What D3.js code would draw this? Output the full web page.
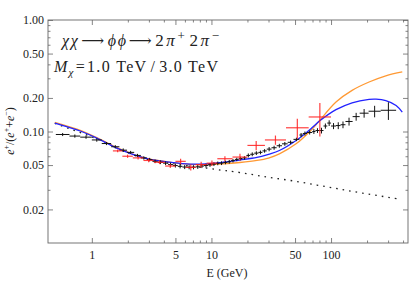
<!DOCTYPE html>
<html>
<head>
<meta charset="utf-8">
<script src="https://cdn.jsdelivr.net/npm/d3@7"></script>
<style>
  body { margin: 0; background: #fff; }
  svg text { font-family: "Liberation Serif", "DejaVu Serif", serif; fill: #222; }
</style>
</head>
<body>
<div id="chart"></div>
<script>
// black data: bin edges (GeV), positron fraction, error
let amsEdges = [0.5, 0.65, 0.8, 1.0, 1.21, 1.45, 1.7, 1.97, 2.26, 2.57, 2.88, 3.21, 3.56, 3.94, 4.34,
    4.77, 5.23, 5.72, 6.24, 6.79, 7.38, 8.0, 8.66, 9.36, 10.1, 10.9, 11.7, 12.6, 13.6, 14.6, 15.7,
    16.9, 18.2, 19.6, 21.1, 22.8, 24.7, 26.7, 29.0, 31.8, 35.1, 38.9, 43.4, 48.5, 54.4, 58, 63,
    69.7, 74.1, 80, 86.5, 93, 100, 110, 120, 132, 151.5, 173.5, 206, 260, 350];
let amsFrac = [0.094, 0.091, 0.089, 0.084, 0.078, 0.073, 0.068, 0.065, 0.061, 0.058,
    0.056, 0.054, 0.053, 0.052, 0.0505, 0.0495, 0.0487, 0.048, 0.0478, 0.0478,
    0.0482, 0.049, 0.0495, 0.0502, 0.051, 0.0518, 0.052, 0.0528, 0.0535, 0.0548,
    0.0562, 0.0572, 0.058, 0.061, 0.0625, 0.064, 0.065, 0.067, 0.0695, 0.0715,
    0.0745, 0.0775, 0.080, 0.085, 0.093, 0.096, 0.098, 0.100, 0.102, 0.102,
    0.112, 0.119, 0.112, 0.113, 0.115, 0.123, 0.136, 0.146, 0.152, 0.155];
let amsErr = [0.003, 0.003, 0.003, 0.003, 0.0025, 0.0025, 0.0025, 0.002, 0.002, 0.002,
    0.002, 0.002, 0.002, 0.002, 0.002, 0.002, 0.002, 0.002, 0.002, 0.002,
    0.002, 0.002, 0.002, 0.002, 0.002, 0.002, 0.002, 0.002, 0.002, 0.002,
    0.002, 0.002, 0.002, 0.0025, 0.0025, 0.0025, 0.0025, 0.0025, 0.003, 0.003,
    0.003, 0.003, 0.003, 0.003, 0.004, 0.004, 0.004, 0.005, 0.005, 0.006,
    0.006, 0.007, 0.007, 0.008, 0.008, 0.010, 0.011, 0.013, 0.018, 0.028];

// red data
let pamEdges = [1.5, 1.8, 2.2, 2.7, 3.3, 4.1, 5.0, 6.1, 7.4, 9.1, 11.2, 15, 20, 28, 42, 65, 100];
let pamFrac = [0.067, 0.060, 0.058, 0.055, 0.053, 0.049, 0.054, 0.0477, 0.0505, 0.052,
    0.057, 0.059, 0.075, 0.084, 0.108, 0.135];
let pamErr = [0.002, 0.002, 0.002, 0.002, 0.002, 0.002, 0.003, 0.003, 0.003, 0.003,
    0.003, 0.004, 0.007, 0.008, 0.022, 0.045];

// model curves
let blueE = [0.49, 0.82, 1.13, 1.55, 2.14, 2.95, 4.8, 6.6, 9.1, 12.5, 17.3, 24, 30, 37, 51, 70, 80,
    110, 150, 208, 238, 287, 350, 394];
let blueFrac = [0.119, 0.100, 0.086, 0.0725, 0.063, 0.0568, 0.0525, 0.051, 0.0513, 0.053, 0.0555,
    0.0585, 0.0625, 0.0675, 0.083, 0.109, 0.124, 0.157, 0.181, 0.194, 0.195, 0.189, 0.171, 0.149];
let orangeE = [0.49, 0.82, 1.13, 1.55, 2.14, 2.95, 4.8, 6.6, 9.1, 12.5, 17.3, 24, 30, 37, 51, 70, 80,
    110, 150, 208, 287, 394];
let orangeFrac = [0.121, 0.1015, 0.087, 0.0732, 0.0635, 0.057, 0.0525, 0.0508, 0.0505, 0.0512,
    0.0527, 0.055, 0.0578, 0.063, 0.0775, 0.106, 0.125, 0.184, 0.234, 0.278, 0.316, 0.342];
let bgE = [0.49, 1.13, 2.14, 2.95, 4.8, 6.6, 9.1, 12.1, 15.6, 27, 51, 97, 184, 370];
let bgFrac = [0.118, 0.085, 0.0625, 0.0565, 0.0515, 0.049, 0.047, 0.045, 0.0436, 0.0396, 0.0357,
    0.0316, 0.028, 0.0248];

// ticks
let xMajor = [1, 5, 10, 50, 100];
let xMinor = [2, 3, 4, 6, 7, 8, 9, 20, 30, 40, 60, 70, 80, 90, 200, 300, 400];
let yMajor = [0.02, 0.05, 0.1, 0.2, 0.5, 1];
let yMinor = [0.03, 0.04, 0.06, 0.07, 0.08, 0.09, 0.3, 0.4, 0.6, 0.7, 0.8, 0.9];

let pLeft = 48, pRight = 408, pTop = 20, pBottom = 243;

let x = d3.scaleLog().domain([0.43, 440]).range([pLeft, pRight]);
let y = d3.scaleLog().domain([0.01, 1]).range([pBottom, pTop]);

let svg = d3.select('#chart')
    .append('svg')
    .attr('width', 415)
    .attr('height', 284);

// axes: major ticks longer, all pointing inward
function addAxis(axis, tx, ty, labels) {
    let g = svg.append('g')
        .attr('transform', `translate(${tx},${ty})`)
        .call(axis);
    g.select('.domain').remove();
    g.selectAll('line').attr('stroke', '#666').attr('stroke-width', 0.8);
    g.selectAll('text').style('font-size', '12px').attr('fill', '#222');
    if (!labels) g.selectAll('text').remove();
    return g;
}

addAxis(d3.axisBottom(x).tickValues(xMajor).tickSize(-5).tickPadding(7).tickFormat(d3.format('d')), 0, pBottom, true);
addAxis(d3.axisBottom(x).tickValues(xMinor).tickSize(-2.5), 0, pBottom, false);
addAxis(d3.axisTop(x).tickValues(xMajor).tickSize(-5), 0, pTop, false);
addAxis(d3.axisTop(x).tickValues(xMinor).tickSize(-2.5), 0, pTop, false);
addAxis(d3.axisLeft(y).tickValues(yMajor).tickSize(-5).tickPadding(4).tickFormat(d3.format('.2f')), pLeft, 0, true);
addAxis(d3.axisLeft(y).tickValues(yMinor).tickSize(-2.5), pLeft, 0, false);
addAxis(d3.axisRight(y).tickValues(yMajor).tickSize(-5), pRight, 0, false);
addAxis(d3.axisRight(y).tickValues(yMinor).tickSize(-2.5), pRight, 0, false);

// frame
svg.append('rect')
    .attr('x', pLeft).attr('y', pTop)
    .attr('width', pRight - pLeft).attr('height', pBottom - pTop)
    .attr('fill', 'none')
    .attr('stroke', '#666')
    .attr('stroke-width', 0.9);

let plot = svg.append('g');

let line = d3.line()
    .x(d => x(d[0]))
    .y(d => y(d[1]))
    .curve(d3.curveCatmullRom.alpha(0.5));

// dotted background
plot.append('path')
    .datum(d3.zip(bgE, bgFrac))
    .attr('d', line)
    .attr('fill', 'none')
    .attr('stroke', '#222')
    .attr('stroke-width', 1.3)
    .attr('stroke-dasharray', '1.6,5');

plot.append('path')
    .datum(d3.zip(orangeE, orangeFrac))
    .attr('d', line)
    .attr('fill', 'none')
    .attr('stroke', '#ff9933')
    .attr('stroke-width', 1.3);

plot.append('path')
    .datum(d3.zip(blueE, blueFrac))
    .attr('d', line)
    .attr('fill', 'none')
    .attr('stroke', '#2222ff')
    .attr('stroke-width', 1.3);

// crosses: horizontal = bin, vertical = error
function crosses(edges, frac, err, color, width) {
    let pts = frac.map((f, i) => ({
        lo: edges[i], hi: edges[i + 1],
        e: Math.sqrt(edges[i] * edges[i + 1]),
        f: f, err: err[i]
    }));
    let g = plot.append('g')
        .attr('stroke', color)
        .attr('stroke-width', width);
    g.selectAll('.h').data(pts).enter().append('line')
        .attr('x1', d => x(d.lo)).attr('x2', d => x(d.hi))
        .attr('y1', d => y(d.f)).attr('y2', d => y(d.f));
    g.selectAll('.v').data(pts).enter().append('line')
        .attr('x1', d => x(d.e)).attr('x2', d => x(d.e))
        .attr('y1', d => y(d.f - d.err)).attr('y2', d => y(d.f + d.err));
}

crosses(amsEdges, amsFrac, amsErr, '#111', 1);
crosses(pamEdges, pamFrac, pamErr, 'rgba(255,30,30,0.85)', 1.2);

// labels
svg.append('text')
    .attr('x', (pLeft + pRight) / 2 - 1)
    .attr('y', 277)
    .attr('text-anchor', 'middle')
    .style('font-size', '12px')
    .text('E (GeV)');

let yl = svg.append('text')
    .attr('transform', 'translate(14,131) rotate(-90)')
    .attr('text-anchor', 'middle')
    .style('font-size', '12px');
yl.append('tspan').style('font-style', 'italic').text('e');
yl.append('tspan').attr('dy', -5).style('font-size', '8px').text('+');
yl.append('tspan').attr('dy', 5).text('/(');
yl.append('tspan').style('font-style', 'italic').text('e');
yl.append('tspan').attr('dy', -5).style('font-size', '8px').text('+');
yl.append('tspan').attr('dy', 5).text('+');
yl.append('tspan').style('font-style', 'italic').text('e');
yl.append('tspan').attr('dy', -5).style('font-size', '8px').text('−');
yl.append('tspan').attr('dy', 5).text(')');

// process line, with a little extra room like the original typesetting
let t1 = svg.append('text')
    .attr('x', 62).attr('y', 46)
    .style('font-size', '16px');
t1.append('tspan').style('font-style', 'italic').text('χχ');
t1.append('tspan').attr('dx', 2).text('⟶');
t1.append('tspan').attr('dx', 2).style('font-style', 'italic').text('ϕϕ');
t1.append('tspan').attr('dx', 1).text('⟶');
t1.append('tspan').attr('dx', 2).style('font-size', '17px').text('2');
t1.append('tspan').attr('dx', 1).style('font-size', '17px').style('font-style', 'italic').text('π');
t1.append('tspan').attr('dx', 1).attr('dy', -6).style('font-size', '13px').text('+');
t1.append('tspan').attr('dx', 3).attr('dy', 6).style('font-size', '17px').text('2');
t1.append('tspan').attr('dx', 1).style('font-size', '17px').style('font-style', 'italic').text('π');
t1.append('tspan').attr('dx', 1).attr('dy', -6).style('font-size', '13px').text('−');
t1.attr('textLength', 157).attr('lengthAdjust', 'spacing');

let t2 = svg.append('text')
    .attr('x', 54).attr('y', 72)
    .style('font-size', '16px');
t2.append('tspan').style('font-style', 'italic').text('M');
t2.append('tspan').attr('dy', 4).style('font-style', 'italic').style('font-size', '11px').text('χ');
t2.append('tspan').attr('dx', 1).attr('dy', -4).text('=');
t2.append('tspan').attr('dx', 1).text('1.0 TeV');
t2.append('tspan').attr('dx', 3).text('/');
t2.append('tspan').attr('dx', 3).text('3.0 TeV');
t2.attr('textLength', 164).attr('lengthAdjust', 'spacing');
</script>
</body>
</html>
